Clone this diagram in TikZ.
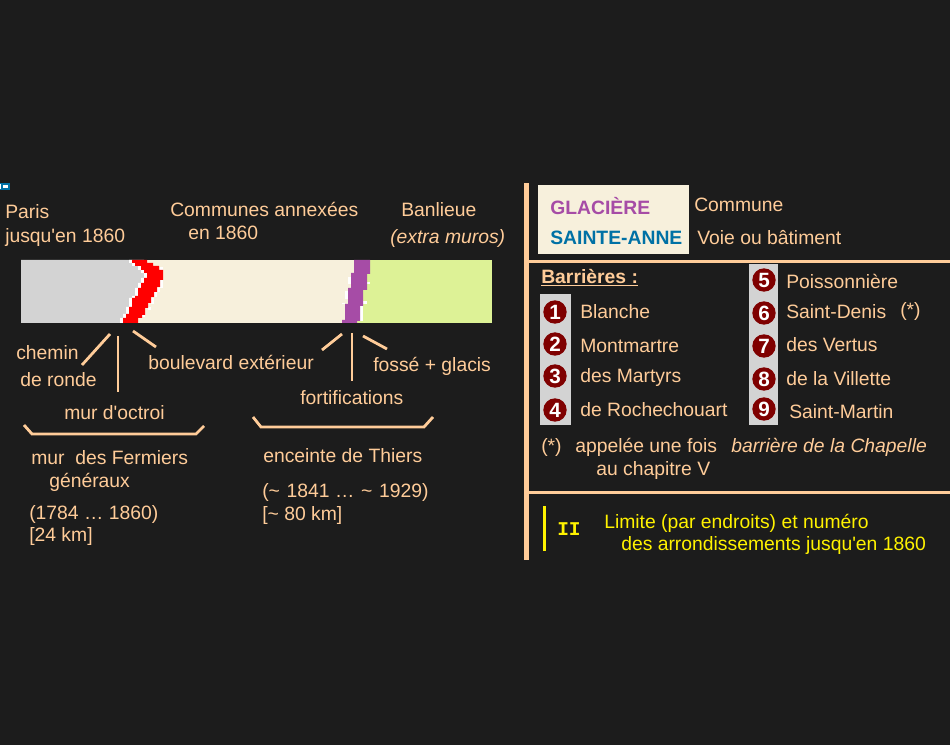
\documentclass[tikz,border=0pt]{standalone}
\usepackage{fontspec}
\usepackage{xcolor}
\setmainfont{Liberation Sans}
\setmonofont{Liberation Mono}
\definecolor{fond}{HTML}{1C1C1C}
\definecolor{peche}{HTML}{FFCC99}
\definecolor{creme}{HTML}{F7F0DC}
\definecolor{vert}{HTML}{DDF296}
\definecolor{gris}{HTML}{D3D3D3}
\definecolor{violet}{HTML}{A64CA6}
\definecolor{bleu}{HTML}{0071A5}
\definecolor{grenat}{HTML}{7F0000}
\newcommand{\corps}{\fontsize{14.5pt}{17pt}\selectfont}
\newcommand{\muroctroi}{(147,260) -- (147,263) -- (153,263) -- (153,266) -- (159,266) -- (159,270) -- (163,270) -- (163,280) -- (160,280) -- (160,287) -- (157,287) -- (157,292) -- (154,292) -- (154,297) -- (151,297) -- (151,303) -- (148,303) -- (148,308) -- (145,308) -- (145,315) -- (142,315) -- (142,318) -- (138,318) -- (138,323) -- (123,323) -- (123,318) -- (126,318) -- (126,314) -- (129,314) -- (129,307) -- (132,307) -- (132,298) -- (135,298) -- (135,296) -- (138,296) -- (138,288) -- (141,288) -- (141,283) -- (144,283) -- (144,278) -- (147,278) -- (147,273) -- (144,273) -- (144,270) -- (141,270) -- (141,266) -- (135,266) -- (135,263) -- (132,263) -- (132,260) -- cycle}
\tikzset{
  txt/.style={anchor=base west,inner sep=0pt,yshift=-0.5pt,text=peche,font=\corps},
  gras/.style={txt,font=\corps\bfseries},
  jaune/.style={txt,text=yellow},
  trait/.style={draw=peche,line width=2.25pt},
  leader/.style={draw=peche,line width=2.1pt},
  numero/.style={circle,fill=grenat,minimum size=17.5pt,inner sep=0pt,text=white,font=\fontsize{15.5pt}{16pt}\selectfont\bfseries}
}
\begin{document}
\begin{tikzpicture}[x=0.75pt,y=-0.75pt]
\useasboundingbox (0,0) rectangle (950,745);
\fill [fond] (0,0) rectangle (950,745);
\fill [bleu] (0,183) rectangle (10,190);
\fill [white] (3,185) rectangle (8,188);
\fill [white] (0,184) rectangle (1,189);
\fill [creme] (130,260) rectangle (360,323);
\fill [vert] (354,260) rectangle (492,323);
\fill [gris] (21,260) -- (132,260) -- (147,273) -- (123,323) -- (21,323) -- cycle;
\fill [white,xshift=-2.25pt] \muroctroi;
\foreach \xa/\ya/\xb/\yb in {160/267/163/270,160/280/163/288,157/288/160/292,154/292/157/297,151/298/154/304,148/307/151/310,142/315/145/317}
\fill [white] (\xa,\ya) rectangle (\xb,\yb);
\fill [red] \muroctroi;
\fill [white] (348,277) rectangle (351,284);
\fill [white] (345,291) rectangle (348,299);
\fill [white] (342,303) rectangle (345,304);
\fill [white] (360,306) rectangle (363,321);
\fill [white] (363,301) rectangle (367,304);
\fill [white] (367,282) rectangle (370,284);
\fill [violet] (354,260) -- (370,260) -- (370,274) -- (367,274) -- (367,290) -- (363,290) -- (363,306) -- (360,306) -- (360,321) -- (357,321) -- (357,323) -- (342,323) -- (342,320) -- (345,320) -- (345,304) -- (348,304) -- (348,288) -- (351,288) -- (351,273) -- (354,273) -- cycle;
\draw [leader] (110,334) -- (82,365);
\draw [leader] (118,336) -- (118,392);
\draw [leader] (133,331) -- (156,347);
\draw [leader] (342,334) -- (322,350);
\draw [leader] (352,333) -- (352,381);
\draw [leader] (363,336) -- (387,349);
\draw [leader] (24,425) -- (32,434) -- (196,434) -- (204,426);
\draw [leader] (253,417) -- (261,427) -- (424,427) -- (433,417);
\node [txt] (paris) at (5,218) {Paris};
\node [txt] (paris2) at (5,242) {jusqu\textquotesingle en 1860};
\node [txt] (communes) at (170,216) {Communes annexées};
\node [txt] (communes2) at (188,239) {en 1860};
\node [txt] (banlieue) at (401,216) {Banlieue};
\node [txt] (banlieue2) at (390,243) {\itshape (extra muros)};
\node [txt] (chemin) at (16,359) {chemin};
\node [txt] (chemin2) at (20,386) {de ronde};
\node [txt] (boulevard) at (148,369) {boulevard extérieur};
\node [txt] (octroi) at (64,419) {mur d\textquotesingle octroi};
\node [txt] (fosse) at (373,371) {fossé + glacis};
\node [txt] (fortif) at (300,404) {fortifications};
\node [txt] (fermiers) at (31,464) {mur\ \ des Fermiers};
\node [txt] (fermiers2) at (49,487) {généraux};
\node [txt] (dates) at (29,519) {(1784 … 1860)};
\node [txt] (long) at (29,541) {[24 km]};
\node [txt] (thiers) at (263,462) {enceinte de Thiers};
\node [txt] (datest) at (262,497) {(\textasciitilde\hspace{1pt}\ 1841 …\hspace{1pt} \textasciitilde\hspace{1pt}\ 1929)};
\node [txt] (longt) at (262,520) {[\textasciitilde{} 80 km]};
\fill [peche] (524,183) rectangle (529,560);
\draw [trait] (524,261.5) -- (950,261.5);
\draw [trait] (524,492.5) -- (950,492.5);
\fill [creme] (538,185) rectangle (689,254);
\node [gras,text=violet] (glaciere) at (550,214) {GLACIÈRE};
\node [gras,text=bleu] (anne) at (550,244) {SAINTE-ANNE};
\node [txt] (commune) at (694,211) {Commune};
\node [txt] (voie) at (697,244) {Voie ou bâtiment};
\node [gras] (barrieres) at (541,283) {\underline{Barrières :}};
\fill [gris] (540,294) rectangle (571,425);
\fill [gris] (749,264) rectangle (778,425);
\foreach \n/\y in {1/312,2/344,3/376,4/410}
\node [numero] (n\n) at (555,\y) {\n};
\foreach \n/\y in {5/280,6/313,7/346,8/379,9/409}
\node [numero] (n\n) at (764,\y) {\n};
\node [txt] (blanche) at (580,318) {Blanche};
\node [txt] (montmartre) at (580,352) {Montmartre};
\node [txt] (martyrs) at (580,382) {des Martyrs};
\node [txt] (roche) at (580,416) {de Rochechouart};
\node [txt] (poisson) at (786,288) {Poissonnière};
\node [txt] (denis) at (786,318) {Saint-Denis};
\node [txt] (etoile) at (900,316) {(*)};
\node [txt] (vertus) at (786,351) {des Vertus};
\node [txt] (villette) at (786,385) {de la Villette};
\node [txt] (martin) at (789,418) {Saint-Martin};
\node [txt] (renvoi) at (541,452) {(*)};
\node [txt] (appelee) at (575,452) {appelée une fois};
\node [txt] (chapelle) at (731,452) {\itshape barrière de la Chapelle};
\node [txt] (chapitre) at (596,475) {au chapitre V};
\fill [yellow] (543,506) rectangle (546,551);
\node [jaune,font=\fontsize{14.6pt}{15pt}\selectfont\ttfamily\bfseries] (num) at (557,535) {II};
\node [jaune] (limite) at (604,528) {Limite (par endroits) et numéro};
\node [jaune] (limite2) at (621,550) {des arrondissements jusqu\textquotesingle en 1860};
\end{tikzpicture}
\end{document}
